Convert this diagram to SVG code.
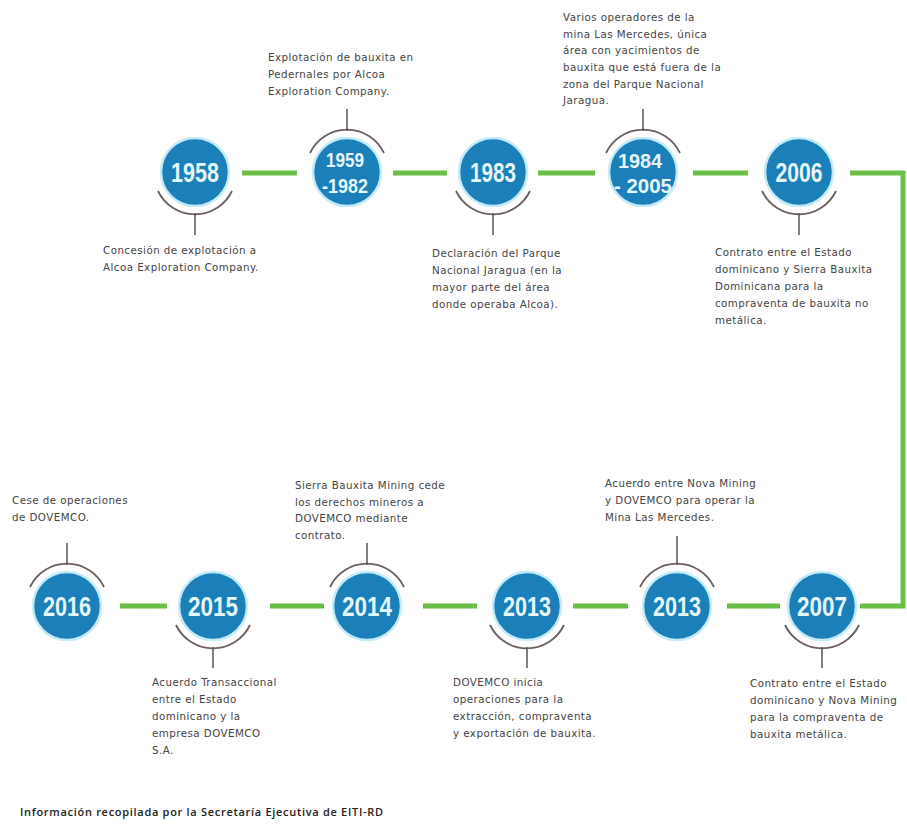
<svg xmlns="http://www.w3.org/2000/svg" width="907" height="838" viewBox="0 0 907 838">
<defs>
<style>
.yr{fill:#1b7fb9;stroke:#c4ecf8;stroke-width:2.5}
.num{fill:#e6f7fc;font-family:"Liberation Sans",sans-serif;font-weight:bold;font-size:28px;text-anchor:middle}
.num2{font-size:21px}
.arc{fill:none;stroke:#6e5f5f;stroke-width:1.8}
.stem{stroke:#555;stroke-width:1.5}
.desc{fill:#444;font-family:"DejaVu Sans","Liberation Sans",sans-serif;font-size:10.3px;letter-spacing:0.45px}
.link{fill:none;stroke:#6abf47;stroke-width:5}
.foot{fill:#222;font-family:"Open Sans","Liberation Sans",sans-serif;font-size:11px;font-weight:600}
</style>
</defs>
<rect width="907" height="838" fill="#fff"/>
<g id="connectors">
<line class="link" x1="242" y1="173" x2="297" y2="173"/>
<line class="link" x1="393" y1="173" x2="447" y2="173"/>
<line class="link" x1="538" y1="173" x2="595" y2="173"/>
<line class="link" x1="693" y1="173" x2="748" y2="173"/>
<polyline class="link" points="850,173 903,173 903,606 860,606"/>
<line class="link" x1="727" y1="606" x2="780" y2="606"/>
<line class="link" x1="573" y1="606" x2="628" y2="606"/>
<line class="link" x1="423" y1="606" x2="477" y2="606"/>
<line class="link" x1="270" y1="606" x2="324" y2="606"/>
<line class="link" x1="120" y1="606" x2="167" y2="606"/>
</g>
<g id="n1958">
<circle class="yr" cx="195" cy="172" r="34"/>
<text class="num" x="195" y="182" textLength="48" lengthAdjust="spacingAndGlyphs">1958</text>
<path class="arc" d="M158,191 A41,41 0 0 0 232,191"/>
<line class="stem" x1="195" y1="213" x2="195" y2="235"/>
<text class="desc" x="103" y="254">Concesión de explotación a</text>
<text class="desc" x="103" y="271">Alcoa Exploration Company.</text>
</g>
<g id="n1959">
<circle class="yr" cx="347" cy="172" r="34"/>
<text class="num num2" x="345" y="167" textLength="38" lengthAdjust="spacingAndGlyphs">1959</text>
<text class="num num2" x="345" y="193" textLength="46" lengthAdjust="spacingAndGlyphs">-1982</text>
<path class="arc" d="M310,153 A41,41 0 0 1 384,153"/>
<line class="stem" x1="347" y1="131" x2="347" y2="109"/>
<text class="desc" x="268" y="61">Explotación de bauxita en</text>
<text class="desc" x="268" y="78">Pedernales por Alcoa</text>
<text class="desc" x="268" y="95">Exploration Company.</text>
</g>
<g id="n1983">
<circle class="yr" cx="493" cy="172" r="34"/>
<text class="num" x="493" y="182" textLength="46" lengthAdjust="spacingAndGlyphs">1983</text>
<path class="arc" d="M456,191 A41,41 0 0 0 530,191"/>
<line class="stem" x1="493" y1="213" x2="493" y2="235"/>
<text class="desc" x="432" y="257">Declaración del Parque</text>
<text class="desc" x="432" y="274">Nacional Jaragua (en la</text>
<text class="desc" x="432" y="291">mayor parte del área</text>
<text class="desc" x="432" y="308">donde operaba Alcoa).</text>
</g>
<g id="n1984">
<circle class="yr" cx="643" cy="172" r="34"/>
<text class="num num2" x="640" y="168" textLength="44" lengthAdjust="spacingAndGlyphs">1984</text>
<text class="num num2" x="643" y="193" textLength="58" lengthAdjust="spacingAndGlyphs">- 2005</text>
<path class="arc" d="M606,153 A41,41 0 0 1 680,153"/>
<line class="stem" x1="643" y1="131" x2="643" y2="109"/>
<text class="desc" x="563" y="21">Varios operadores de la</text>
<text class="desc" x="563" y="38">mina Las Mercedes, única</text>
<text class="desc" x="563" y="54">área con yacimientos de</text>
<text class="desc" x="563" y="71">bauxita que está fuera de la</text>
<text class="desc" x="563" y="88">zona del Parque Nacional</text>
<text class="desc" x="563" y="104">Jaragua.</text>
</g>
<g id="n2006">
<circle class="yr" cx="799" cy="172" r="34"/>
<text class="num" x="799" y="182" textLength="47" lengthAdjust="spacingAndGlyphs">2006</text>
<path class="arc" d="M762,191 A41,41 0 0 0 836,191"/>
<line class="stem" x1="799" y1="213" x2="799" y2="235"/>
<text class="desc" x="715" y="256">Contrato entre el Estado</text>
<text class="desc" x="715" y="273">dominicano y Sierra Bauxita</text>
<text class="desc" x="715" y="290">Dominicana para la</text>
<text class="desc" x="715" y="307">compraventa de bauxita no</text>
<text class="desc" x="715" y="324">metálica.</text>
</g>
<g id="n2007">
<circle class="yr" cx="822" cy="606" r="34"/>
<text class="num" x="822" y="616" textLength="50" lengthAdjust="spacingAndGlyphs">2007</text>
<path class="arc" d="M785,625 A41,41 0 0 0 859,625"/>
<line class="stem" x1="822" y1="647" x2="822" y2="668"/>
<text class="desc" x="750" y="687">Contrato entre el Estado</text>
<text class="desc" x="750" y="704">dominicano y Nova Mining</text>
<text class="desc" x="750" y="721">para la compraventa de</text>
<text class="desc" x="750" y="738">bauxita metálica.</text>
</g>
<g id="n2013b">
<circle class="yr" cx="677" cy="606" r="34"/>
<text class="num" x="677" y="616" textLength="48" lengthAdjust="spacingAndGlyphs">2013</text>
<path class="arc" d="M640,587 A41,41 0 0 1 714,587"/>
<line class="stem" x1="677" y1="565" x2="677" y2="536"/>
<text class="desc" x="605" y="487">Acuerdo entre Nova Mining</text>
<text class="desc" x="605" y="504">y DOVEMCO para operar la</text>
<text class="desc" x="605" y="521">Mina Las Mercedes.</text>
</g>
<g id="n2013a">
<circle class="yr" cx="527" cy="606" r="34"/>
<text class="num" x="527" y="616" textLength="48" lengthAdjust="spacingAndGlyphs">2013</text>
<path class="arc" d="M490,625 A41,41 0 0 0 564,625"/>
<line class="stem" x1="527" y1="647" x2="527" y2="668"/>
<text class="desc" x="453" y="686">DOVEMCO inicia</text>
<text class="desc" x="453" y="703">operaciones para la</text>
<text class="desc" x="453" y="720">extracción, compraventa</text>
<text class="desc" x="453" y="737">y exportación de bauxita.</text>
</g>
<g id="n2014">
<circle class="yr" cx="367" cy="606" r="34"/>
<text class="num" x="367" y="616" textLength="50" lengthAdjust="spacingAndGlyphs">2014</text>
<path class="arc" d="M330,587 A41,41 0 0 1 404,587"/>
<line class="stem" x1="367" y1="565" x2="367" y2="543"/>
<text class="desc" x="295" y="489">Sierra Bauxita Mining cede</text>
<text class="desc" x="295" y="506">los derechos mineros a</text>
<text class="desc" x="295" y="522">DOVEMCO mediante</text>
<text class="desc" x="295" y="539">contrato.</text>
</g>
<g id="n2015">
<circle class="yr" cx="213" cy="606" r="34"/>
<text class="num" x="213" y="616" textLength="50" lengthAdjust="spacingAndGlyphs">2015</text>
<path class="arc" d="M176,625 A41,41 0 0 0 250,625"/>
<line class="stem" x1="213" y1="647" x2="213" y2="668"/>
<text class="desc" x="152" y="686">Acuerdo Transaccional</text>
<text class="desc" x="152" y="703">entre el Estado</text>
<text class="desc" x="152" y="720">dominicano y la</text>
<text class="desc" x="152" y="737">empresa DOVEMCO</text>
<text class="desc" x="152" y="754">S.A.</text>
</g>
<g id="n2016">
<circle class="yr" cx="67" cy="606" r="34"/>
<text class="num" x="67" y="616" textLength="48" lengthAdjust="spacingAndGlyphs">2016</text>
<path class="arc" d="M30,587 A41,41 0 0 1 104,587"/>
<line class="stem" x1="67" y1="565" x2="67" y2="543"/>
<text class="desc" x="12" y="504">Cese de operaciones</text>
<text class="desc" x="12" y="521">de DOVEMCO.</text>
</g>
<text class="foot" x="20" y="816" textLength="363">Información recopilada por la Secretaría Ejecutiva de EITI-RD</text>
</svg>
